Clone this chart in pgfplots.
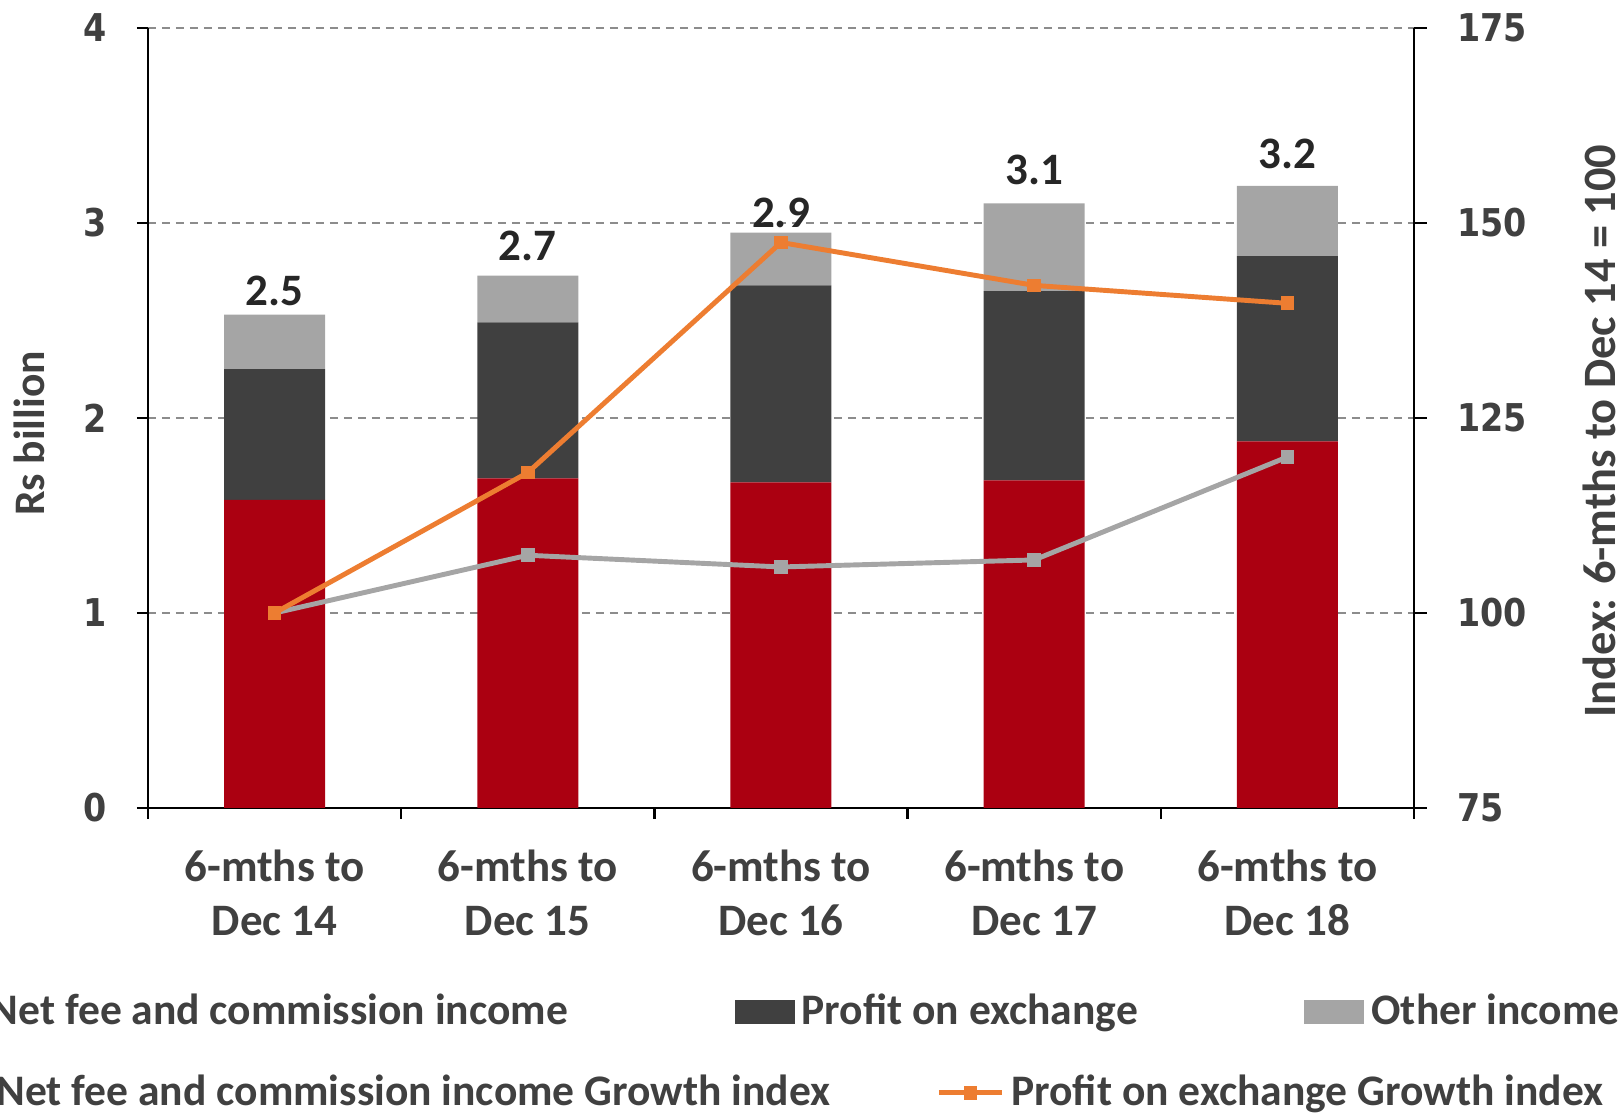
\documentclass[border=0pt]{standalone}
\usepackage{pgfplots}
\pgfplotsset{compat=1.18}
\usepackage{fontspec}
\setmainfont{Carlito}
\newfontfamily\tickfont[FakeStretch=0.87]{DejaVu Sans}
\definecolor{cRed}{HTML}{AB0011}
\definecolor{cDark}{HTML}{404040}
\definecolor{cLight}{HTML}{A5A5A5}
\definecolor{cOrange}{HTML}{ED7D31}
\definecolor{cText}{HTML}{404040}
\definecolor{cVal}{HTML}{262626}
\definecolor{cGrid}{HTML}{8C8C8C}
\newcommand{\lblfont}{\fontsize{12.8}{15.1}\selectfont\bfseries}
\newcommand{\legfont}{\fontsize{12.4}{14.6}\selectfont\bfseries}
\newcommand{\rlblfont}{\fontsize{13.2}{15.6}\selectfont\bfseries}
\newcommand{\ylblfont}{\fontsize{12.4}{14.6}\selectfont\bfseries}
\newcommand{\tkfont}{\tickfont\bfseries\fontsize{10.9}{12}\selectfont}
\begin{document}
\begin{tikzpicture}
\begin{axis}[
  at={(1.48cm,3.10cm)}, anchor=south west,
  scale only axis, width=12.66cm, height=7.80cm,
  xmin=-0.5, xmax=4.5, ymin=0, ymax=4,
  ybar stacked, bar width=1.01cm,
  axis x line*=bottom, axis y line*=left,
  axis line style={line width=0.7pt, black, -},
  tick align=outside,
  xtick={0,1,2,3,4},
  xticklabels={{6-mths to\\Dec 14},{6-mths to\\Dec 15},{6-mths to\\Dec 16},{6-mths to\\Dec 17},{6-mths to\\Dec 18}},
  xticklabel style={align=center, font=\lblfont, text=cText, yshift=-0.19cm},
  minor xtick={-0.5,0.5,1.5,2.5,3.5,4.5},
  major x tick style={draw=none},
  minor x tick style={black, line width=0.7pt},
  minor tick length=0.11cm,
  ytick={0,1,2,3,4},
  yticklabels={0,1,2,3,4},
  yticklabel style={font=\tkfont, text=cText, xshift=-0.18cm},
  y tick style={black, line width=0.7pt},
  major tick length=0.11cm,
  ymajorgrids,
  grid style={cGrid, line width=0.55pt, dash pattern=on 0.08cm off 0.06cm},
  ylabel={Rs billion},
  every axis y label/.style={at={(axis description cs:-0.0935,0.48)}, rotate=90, anchor=center, font=\ylblfont, text=cText},
  legend style={at={(axis description cs:-0.1785,-0.2615)}, anchor=west, draw=none, fill=none, inner sep=0pt, font=\legfont, text=cText,
    /tikz/every even column/.append style={column sep=1.595cm}},
  legend columns=3,
  legend image code/.code={\fill[#1] (0cm,-0.12cm) rectangle (0.6cm,0.12cm);},
]
\addplot+[fill=cRed, draw=none] coordinates {(0,1.58) (1,1.69) (2,1.67) (3,1.68) (4,1.88)};
\addlegendentry{Net fee and commission income}
\addplot+[fill=cDark, draw=none] coordinates {(0,0.67) (1,0.80) (2,1.01) (3,0.97) (4,0.95)};
\addlegendentry{Profit on exchange}
\addplot+[fill=cLight, draw=none] coordinates {(0,0.28) (1,0.24) (2,0.27) (3,0.45) (4,0.36)};
\addlegendentry{Other income}
\end{axis}
\begin{axis}[
  at={(1.48cm,3.10cm)}, anchor=south west,
  scale only axis, width=12.66cm, height=7.80cm,
  xmin=-0.5, xmax=4.5, ymin=75, ymax=175,
  axis x line=none, axis y line*=right,
  axis line style={line width=0.7pt, black, -},
  tick align=outside,
  ytick={75,100,125,150,175},
  yticklabels={75,100,125,150,175},
  yticklabel style={font=\tkfont, text=cText, xshift=0.18cm},
  y tick style={black, line width=0.7pt},
  major tick length=0.13cm,
  ylabel={Index: 6-mths to Dec 14 = 100},
  every axis y label/.style={at={(axis description cs:1.1462,0.483)}, rotate=90, anchor=center, font=\rlblfont, text=cText},
  legend style={at={(axis description cs:-0.1795,-0.365)}, anchor=west, draw=none, fill=none, inner sep=0pt, font=\legfont, text=cText,
    /tikz/every even column/.append style={column sep=0.99cm}},
  legend columns=2,
  legend image code/.code={\draw[mark repeat=2,mark phase=2,#1] plot coordinates {(0cm,0cm) (0.315cm,0cm) (0.63cm,0cm)};},
]
\addplot[color=cLight, line width=1.4pt, mark=square*, mark size=1.7pt, mark options={fill=cLight, draw=cLight, line width=0.5pt}] coordinates {(0,100) (1,107.4) (2,105.9) (3,106.8) (4,120.0)};
\addlegendentry{Net fee and commission income Growth index}
\addplot[color=cOrange, line width=1.4pt, mark=square*, mark size=1.7pt, mark options={fill=cOrange, draw=cOrange, line width=0.5pt}] coordinates {(0,100) (1,118.0) (2,147.5) (3,142.0) (4,139.7)};
\addlegendentry{Profit on exchange Growth index}
\addplot[draw=none, mark=none, forget plot, point meta=explicit symbolic, nodes near coords,
  nodes near coords style={anchor=center, inner sep=0pt, font=\lblfont, text=cVal}]
  coordinates {(0,141.3)[2.5] (1,147.1)[2.7] (2,151.3)[2.9] (3,156.8)[3.1] (4,158.9)[3.2]};
\end{axis}
\pgfresetboundingbox
\useasboundingbox (0,0) rectangle (16.22cm,11.18cm);
\end{tikzpicture}
\end{document}
